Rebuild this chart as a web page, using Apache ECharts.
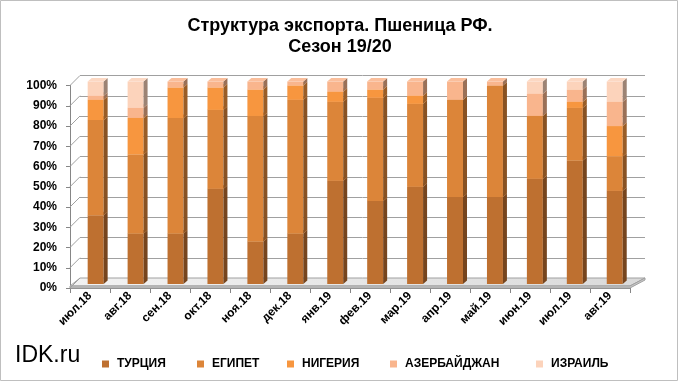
<!DOCTYPE html>
<html><head><meta charset="utf-8">
<script src="https://cdn.jsdelivr.net/npm/echarts@6/dist/echarts.min.js"></script>
<style>html,body{margin:0;padding:0;background:#fff}#c{width:680px;height:384px}</style>
</head><body><div id="c"></div>
<script>
const categories = ['июл.18','авг.18','сен.18','окт.18','ноя.18','дек.18','янв.19','фев.19','мар.19','апр.19','май.19','июн.19','июл.19','авг.19'];
const turkey     = [34,25,25,47,21,25,51,41,48,43,43,52,61,46];
const egypt      = [47,39,57,39,62,66,39,51,41,48,55,31,26,17];
const nigeria    = [10,18,15,11,13, 7, 5, 4, 4, 0, 0, 0, 3,15];
const azerbaijan = [ 2, 5, 3, 3, 4, 2, 5, 4, 7, 9, 2,11, 6,12];
const israel     = [ 7,13, 0, 0, 0, 0, 0, 0, 0, 0, 0, 6, 4,10];
const seriesNames = ['ТУРЦИЯ','ЕГИПЕТ','НИГЕРИЯ','АЗЕРБАЙДЖАН','ИЗРАИЛЬ'];
const yTicks = [0,10,20,30,40,50,60,70,80,90,100];

const colors = ['#BE7030','#DC8539','#F7963F','#F9B58D','#FCD3BB'];
const FONT = 'Liberation Sans, Arial, sans-serif';
const GRID_COLOR = '#A0A0A0';

function shade(hex, f) {
  const n = parseInt(hex.slice(1), 16);
  let r = (n >> 16) & 255, g = (n >> 8) & 255, b = n & 255;
  if (f <= 1) { r *= f; g *= f; b *= f; }
  else { const k = f - 1; r += (255 - r) * k; g += (255 - g) * k; b += (255 - b) * k; }
  return 'rgb(' + Math.round(r) + ',' + Math.round(g) + ',' + Math.round(b) + ')';
}

const values = [turkey, egypt, nigeria, azerbaijan, israel];
const bases = categories.map(() => 0);
const barSeries = values.map((arr, si) => {
  const data = arr.map((v, i) => { const b = bases[i]; bases[i] += v; return [i, b, b + v]; });
  const c = colors[si];
  return {
    type: 'custom', name: seriesNames[si], xAxisIndex: 2, yAxisIndex: 2, z: 5,
    itemStyle: { color: c }, encode: { x: 0, y: [1, 2] }, data: data,
    renderItem: function (params, api) {
      const i = api.value(0), b = api.value(1), t = api.value(2);
      if (t - b <= 0) return { type: 'group', children: [] };
      const p0 = api.coord([i, b]), p1 = api.coord([i, t]);
      const w = api.size([1, 0])[0] * 0.4, d = 4, dd = 3.5;
      const x = p0[0] - w / 2;
      return { type: 'group', children: [
        { type: 'rect', shape: { x: x, y: p1[1], width: w, height: p0[1] - p1[1] }, style: { fill: c } },
        { type: 'polygon', shape: { points: [[x + w, p1[1]], [x + w + d, p1[1] - dd], [x + w + d, p0[1] - dd], [x + w, p0[1]]] }, style: { fill: shade(c, 0.62) } },
        { type: 'polygon', shape: { points: [[x, p1[1]], [x + d, p1[1] - dd], [x + w + d, p1[1] - dd], [x + w, p1[1]]] }, style: { fill: shade(c, 1.12) } }
      ] };
    }
  };
});

const floorSeries = {
  type: 'custom', xAxisIndex: 0, yAxisIndex: 0, z: 1, silent: true, data: [[0, 0]],
  renderItem: function (params, api) {
    const cs = params.coordSys;
    const x0 = cs.x, x1 = cs.x + cs.width, y = cs.y + cs.height;
    return { type: 'group', children: [
      { type: 'polygon', shape: { points: [[x0, y - 2], [x1, y - 2], [x1 + 15, y - 10], [x0 + 10, y - 10]] },
        style: { fill: { type: 'linear', x: 0, y: 0, x2: 1, y2: 0, colorStops: [{ offset: 0, color: '#F2F2F2' }, { offset: 1, color: '#DADADA' }] }, stroke: GRID_COLOR, lineWidth: 1 } },
      { type: 'polygon', shape: { points: [[x0, y - 2], [x1, y - 2], [x1 + 15, y - 10], [x1 + 15, y - 8], [x1, y], [x0, y]] },
        style: { fill: '#C8C8C8', stroke: GRID_COLOR, lineWidth: 1 } }
    ] };
  }
};

const connectorSeries = {
  type: 'custom', xAxisIndex: 0, yAxisIndex: 0, z: 2, silent: true,
  data: yTicks.map(v => [0, v]),
  renderItem: function (params, api) {
    const p = api.coord([0, api.value(1)]);
    const x = params.coordSys.x;
    return { type: 'line', shape: { x1: x, y1: p[1], x2: x + 10, y2: p[1] - 10 }, style: { stroke: GRID_COLOR, lineWidth: 1 } };
  }
};

const legendLefts = [97, 192, 282, 385, 531];
const legends = seriesNames.map((n, k) => ({
  data: [n], left: legendLefts[k], top: 353, icon: 'rect', itemWidth: 7, itemHeight: 7,
  selectedMode: false,
  textStyle: { fontFamily: FONT, fontWeight: 'bold', fontSize: 12, color: '#000', padding: [0, 0, 0, 3] }
}));

const chart = echarts.init(document.getElementById('c'), null, { renderer: 'canvas' });
chart.setOption({
  animation: false,
  backgroundColor: '#fff',
  title: {
    text: 'Структура экспорта. Пшеница РФ.\nСезон 19/20',
    left: 'center', top: 11,
    textStyle: { fontFamily: FONT, fontWeight: 'bold', fontSize: 18, lineHeight: 21, color: '#000' }
  },
  legend: legends,
  grid: [
    { left: 70, top: 85.5, width: 560, height: 202.5 },
    { left: 80, top: 75.5, width: 565, height: 202.5 },
    { left: 75.7, top: 81.5, width: 559, height: 202.5 }
  ],
  xAxis: [
    { type: 'category', gridIndex: 0, data: categories,
      axisLine: { show: true, lineStyle: { color: '#868686' } },
      axisTick: { show: true, length: 5, lineStyle: { color: '#868686' } },
      axisLabel: { interval: 0, rotate: 45, margin: 6, fontFamily: FONT, fontWeight: 'bold', fontSize: 12, color: '#000' } },
    { type: 'category', gridIndex: 1, data: categories, show: false },
    { type: 'category', gridIndex: 2, data: categories, show: false }
  ],
  yAxis: [
    { type: 'value', gridIndex: 0, min: 0, max: 100, interval: 10,
      axisLine: { show: true, lineStyle: { color: '#868686' } },
      axisTick: { show: true, length: 4, lineStyle: { color: '#868686' } },
      splitLine: { show: false },
      axisLabel: { formatter: '{value}%', margin: 13, fontFamily: FONT, fontWeight: 'bold', fontSize: 12, color: '#000' } },
    { type: 'value', gridIndex: 1, min: 0, max: 100, interval: 10,
      axisLine: { show: false }, axisTick: { show: false }, axisLabel: { show: false },
      splitLine: { show: true, lineStyle: { color: GRID_COLOR, width: 1 } } },
    { type: 'value', gridIndex: 2, min: 0, max: 100, show: false, splitLine: { show: false } }
  ],
  graphic: [
    { type: 'rect', shape: { x: 0.5, y: 0.5, width: 677, height: 380 }, style: { fill: 'none', stroke: '#BFBFBF', lineWidth: 1 }, z: 100 },
    { type: 'text', left: 15, top: 344, style: { text: 'IDK.ru', fontFamily: FONT, fontSize: 23, fill: '#000' } }
  ],
  series: [floorSeries, connectorSeries].concat(barSeries)
});
</script>
</body></html>
